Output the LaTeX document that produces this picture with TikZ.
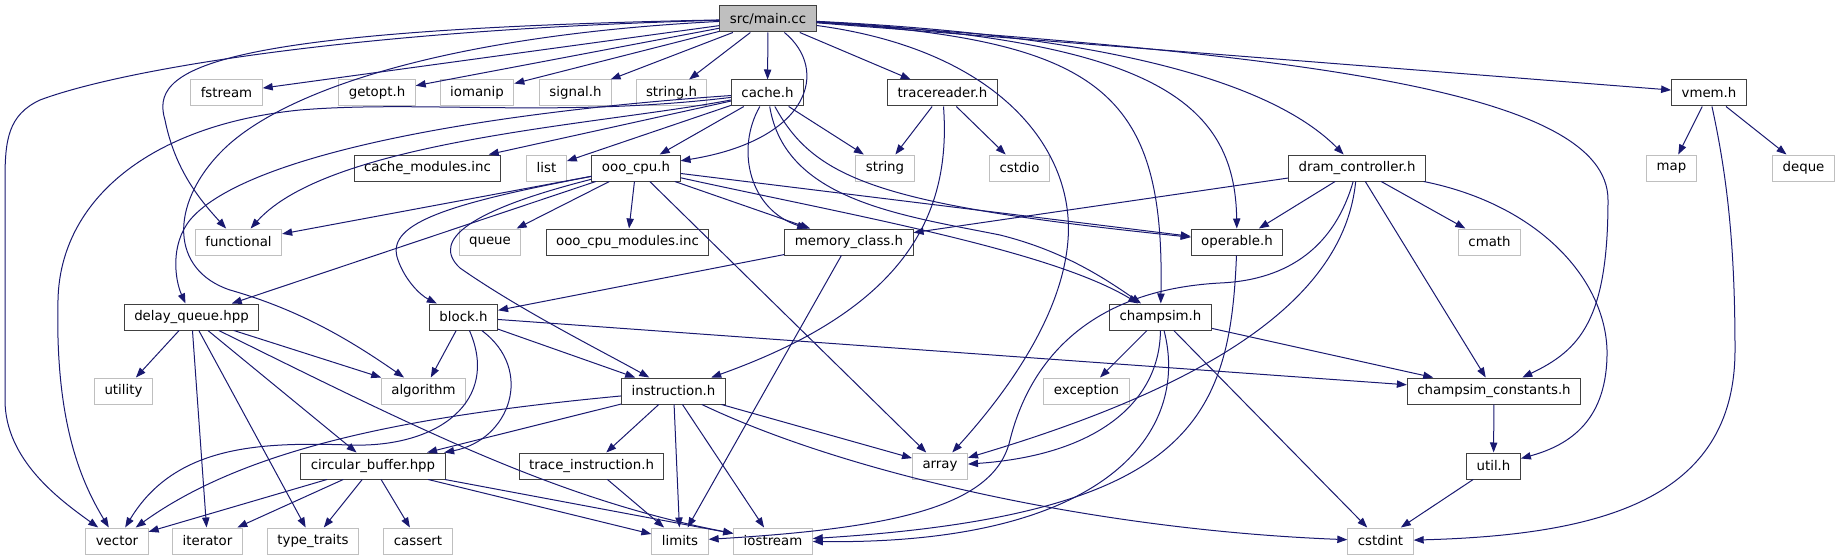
\documentclass[tikz,border=0pt]{standalone}
\usepackage{fontspec}
\setmainfont{DejaVu Sans}
\usetikzlibrary{arrows.meta}
\definecolor{edgeblue}{HTML}{191970}
\definecolor{boxgray}{HTML}{BFBFBF}
\definecolor{boxdark}{HTML}{404040}
\begin{document}
\begin{tikzpicture}[x=0.75pt, y=-0.75pt,
  every node/.style={font=\fontsize{10pt}{12pt}\selectfont, inner xsep=7.5pt, inner ysep=0pt, minimum height=19.5pt, line width=0.75pt},
  root/.style={draw=boxdark, fill=boxgray},
  inc/.style={draw=boxdark, fill=white},
  sys/.style={draw=boxgray, fill=white},
  dep/.style={draw=edgeblue, line width=0.75pt, -{Triangle[length=7.5pt,width=5.5pt]}}]
\useasboundingbox (0,0) rectangle (1842,560);
% row 0 and 1
\node[root] (main) at (768,19) {src/main.cc};
\node[sys] (fstream) at (226.5,93) {fstream};
\node[sys] (getopt) at (377,93) {getopt.h};
\node[sys] (iomanip) at (477,93) {iomanip};
\node[sys] (signalh) at (575.5,93) {signal.h};
\node[sys] (stringh) at (671.5,93) {string.h};
\node[inc] (cache) at (767.5,93) {cache.h};
\node[inc] (tracer) at (942.5,93) {tracereader.h};
\node[inc] (vmem) at (1709,93) {vmem.h};
% row 2
\node[inc] (cachemod) at (427.5,168) {cache\_modules.inc};
\node[sys] (list) at (546.5,168) {list};
\node[inc] (ooocpu) at (636,168) {ooo\_cpu.h};
\node[sys] (string) at (885,168) {string};
\node[sys] (cstdio) at (1019.5,168) {cstdio};
\node[inc] (dram) at (1357,168) {dram\_controller.h};
\node[sys] (map) at (1671.5,168) {map};
\node[sys] (deque) at (1803.5,168) {deque};
% row 3
\node[sys] (functional) at (238.5,242) {functional};
\node[sys] (queue) at (490,242) {queue};
\node[inc] (ooomod) at (627.5,242) {ooo\_cpu\_modules.inc};
\node[inc] (memclass) at (849,242) {memory\_class.h};
\node[inc] (operable) at (1237,242) {operable.h};
\node[sys] (cmath) at (1489.5,242) {cmath};
% row 4 and 5
\node[inc] (delayq) at (191.5,317) {delay\_queue.hpp};
\node[inc] (block) at (463.5,317) {block.h};
\node[inc] (champsim) at (1160.5,317) {champsim.h};
\node[sys] (utility) at (123.5,391) {utility};
\node[sys] (algorithm) at (423.5,391) {algorithm};
\node[inc] (instr) at (673.5,391) {instruction.h};
\node[sys] (exception) at (1086.5,391) {exception};
\node[inc] (constants) at (1494,391) {champsim\_constants.h};
% row 6 and 7
\node[inc] (circbuf) at (373,466) {circular\_buffer.hpp};
\node[inc] (traceinstr) at (591.5,466) {trace\_instruction.h};
\node[sys] (array) at (940,466) {array};
\node[inc] (util) at (1493.5,466) {util.h};
\node[sys] (vector) at (117,541) {vector};
\node[sys] (iterator) at (207.5,541) {iterator};
\node[sys] (typetraits) at (313,541) {type\_traits};
\node[sys] (cassert) at (418,541) {cassert};
\node[sys] (limits) at (680,541) {limits};
\node[sys] (iostream) at (773,541) {iostream};
\node[sys] (cstdint) at (1380.5,541) {cstdint};
% src/main.cc
\draw[dep] (main) -- (fstream);
\draw[dep] (main) -- (getopt);
\draw[dep] (main) -- (iomanip);
\draw[dep] (main) -- (signalh);
\draw[dep] (main) -- (stringh);
\draw[dep] (main) -- (cache);
\draw[dep] (main) -- (tracer);
\draw[dep] (main) -- (vmem);
\draw[dep] (main) .. controls (830,70) and (810,140) .. (ooocpu);
\draw[dep] (main) .. controls (200,30) and (150,70) .. (165,120) .. controls (175,170) and (200,200) .. (functional);
\draw[dep] (main) .. controls (350,30) and (120,70) .. (40,100) .. controls (8,115) and (5,140) .. (5,180) -- (5,400) .. controls (5,460) and (60,500) .. (vector);
\draw[dep] (main) .. controls (450,35) and (280,90) .. (220,153) .. controls (170,205) and (170,270) .. (230,290) .. controls (300,310) and (350,340) .. (algorithm);
\draw[dep] (main) .. controls (1000,50) and (1075,150) .. (1068,240) .. controls (1062,320) and (1000,400) .. (array);
\draw[dep] (main) .. controls (1100,40) and (1165,90) .. (champsim);
\draw[dep] (main) .. controls (1150,40) and (1235,100) .. (operable);
\draw[dep] (main) .. controls (1100,35) and (1270,80) .. (dram);
\draw[dep] (main) .. controls (1300,55) and (1608,90) .. (1608,200) .. controls (1608,320) and (1580,350) .. (constants);
% cache.h
\draw[dep] (cache) -- (cachemod);
\draw[dep] (cache) -- (list);
\draw[dep] (cache) -- (ooocpu);
\draw[dep] (cache) -- (string);
\draw[dep] (cache) .. controls (735,150) and (750,210) .. (memclass);
\draw[dep] (cache) .. controls (785,200) and (900,215) .. (1000,235) .. controls (1060,250) and (1100,275) .. (champsim);
\draw[dep] (cache) .. controls (815,180) and (880,205) .. (operable);
\draw[dep] (cache) .. controls (600,125) and (330,140) .. (functional);
\draw[dep] (cache) .. controls (560,118) and (420,100) .. (300,110) .. controls (150,125) and (60,200) .. (58,300) .. controls (55,420) and (80,480) .. (vector);
\draw[dep] (cache) .. controls (450,115) and (240,160) .. (190,220) .. controls (170,245) and (175,280) .. (delayq);
% ooo_cpu.h
\draw[dep] (ooocpu) -- (functional);
\draw[dep] (ooocpu) -- (queue);
\draw[dep] (ooocpu) -- (ooomod);
\draw[dep] (ooocpu) -- (memclass);
\draw[dep] (ooocpu) -- (operable);
\draw[dep] (ooocpu) .. controls (850,215) and (1050,250) .. (champsim);
\draw[dep] (ooocpu) -- (array);
\draw[dep] (ooocpu) -- (delayq);
\draw[dep] (ooocpu) .. controls (440,205) and (385,225) .. (398,260) .. controls (405,280) and (420,295) .. (block);
\draw[dep] (ooocpu) .. controls (470,210) and (430,240) .. (460,268) .. controls (520,310) and (600,350) .. (instr);
% tracereader.h, vmem.h
\draw[dep] (tracer) -- (string);
\draw[dep] (tracer) -- (cstdio);
\draw[dep] (tracer) .. controls (952,220) and (900,310) .. (instr);
\draw[dep] (vmem) -- (map);
\draw[dep] (vmem) -- (deque);
\draw[dep] (vmem) .. controls (1728,180) and (1735,250) .. (1735,350) .. controls (1735,500) and (1600,535) .. (cstdint);
% dram_controller.h
\draw[dep] (dram) -- (memclass);
\draw[dep] (dram) -- (operable);
\draw[dep] (dram) -- (cmath);
\draw[dep] (dram) -- (constants);
\draw[dep] (dram) .. controls (1540,205) and (1605,280) .. (1607,350) .. controls (1608,420) and (1570,445) .. (util);
\draw[dep] (dram) .. controls (1335,245) and (1290,280) .. (1220,283) .. controls (1090,290) and (1030,360) .. (1010,440) .. controls (995,505) and (900,528) .. (limits);
\draw[dep] (dram) .. controls (1345,290) and (1230,380) .. (array);
% memory_class.h, operable.h, champsim.h
\draw[dep] (memclass) -- (block);
\draw[dep] (memclass) -- (limits);
\draw[dep] (operable) .. controls (1230,420) and (1190,515) .. (iostream);
\draw[dep] (champsim) -- (exception);
\draw[dep] (champsim) -- (constants);
\draw[dep] (champsim) -- (cstdint);
\draw[dep] (champsim) .. controls (1160,400) and (1100,455) .. (array);
\draw[dep] (champsim) .. controls (1190,430) and (1110,545) .. (iostream);
% block.h
\draw[dep] (block) -- (algorithm);
\draw[dep] (block) -- (constants);
\draw[dep] (block) -- (instr);
\draw[dep] (block) .. controls (535,370) and (510,440) .. (circbuf);
\draw[dep] (block) .. controls (500,400) and (440,448) .. (350,445) .. controls (260,442) and (175,445) .. (vector);
% instruction.h
\draw[dep] (instr) -- (traceinstr);
\draw[dep] (instr) -- (limits);
\draw[dep] (instr) -- (iostream);
\draw[dep] (instr) -- (array);
\draw[dep] (instr) -- (circbuf);
\draw[dep] (instr) .. controls (850,475) and (1100,530) .. (cstdint);
\draw[dep] (instr) .. controls (420,415) and (250,445) .. (vector);
% delay_queue.hpp, circular_buffer.hpp
\draw[dep] (delayq) -- (utility);
\draw[dep] (delayq) -- (iterator);
\draw[dep] (delayq) -- (typetraits);
\draw[dep] (delayq) -- (circbuf);
\draw[dep] (delayq) -- (algorithm);
\draw[dep] (delayq) .. controls (420,430) and (560,500) .. (iostream);
\draw[dep] (circbuf) -- (vector);
\draw[dep] (circbuf) -- (iterator);
\draw[dep] (circbuf) -- (typetraits);
\draw[dep] (circbuf) -- (cassert);
\draw[dep] (circbuf) -- (limits);
\draw[dep] (circbuf) -- (iostream);
% remaining
\draw[dep] (traceinstr) -- (limits);
\draw[dep] (constants) -- (util);
\draw[dep] (util) -- (cstdint);
\end{tikzpicture}
\end{document}
